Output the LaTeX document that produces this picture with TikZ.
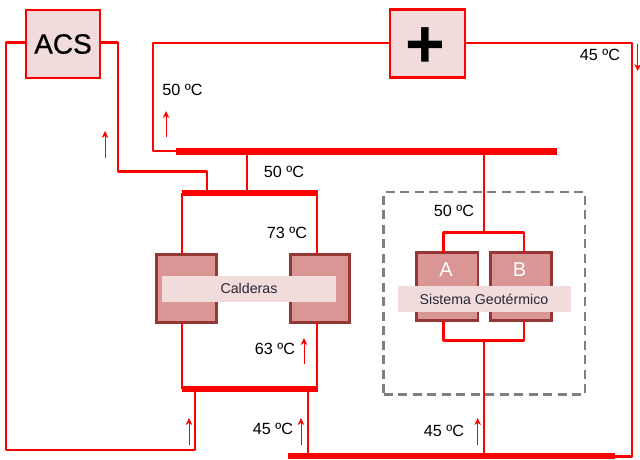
\documentclass[tikz,border=0pt]{standalone}
\usepackage{fontspec}
\setmainfont{Liberation Sans}
\newfontfamily\acsfont[FakeBold=0.6]{Liberation Sans}
\usetikzlibrary{arrows.meta, positioning}
\definecolor{pipeRed}{HTML}{FF0000}
\definecolor{paleRose}{HTML}{F2DCDB}
\definecolor{unitRose}{HTML}{D99694}
\definecolor{unitEdge}{HTML}{953735}
\definecolor{frameGrey}{HTML}{7F7F7F}
\definecolor{bandText}{HTML}{262635}
\tikzset{
  pipe/.style     = {pipeRed, line width=2.8pt, line join=round},
  busbar/.style   = {rectangle, fill=pipeRed, inner sep=0pt, outer sep=0pt},
  loadbox/.style  = {rectangle, draw=pipeRed, fill=paleRose, line width=2.8pt, inner sep=0pt, outer sep=0pt},
  unitbox/.style  = {rectangle, draw=unitEdge, fill=unitRose, line width=2.8pt, inner sep=0pt, outer sep=0pt},
  band/.style     = {rectangle, fill=paleRose, inner sep=0pt, outer sep=0pt, text=bandText,
                     font=\fontsize{14.2}{16}\selectfont},
  templbl/.style  = {inner sep=0pt, font=\fontsize{16.2}{18}\selectfont},
  flow/.style     = {-{Stealth[length=7pt, width=6.5pt]}, pipeRed, line width=1pt},
}
\begin{document}
\begin{tikzpicture}[x=1pt, y=-1pt]
  \useasboundingbox (0,0) rectangle (640,459);
  % geothermal enclosure
  \node[draw=frameGrey, line width=2.6pt, dash pattern=on 9pt off 5.5pt, minimum width=201.5pt,
        minimum height=202.5pt, inner sep=0pt] (geoframe) at (484.3,293.4) {};
  % collector bars
  \node[busbar, minimum width=381pt, minimum height=7pt] (bartop) at (366.5,151) {};
  \node[busbar, minimum width=136pt, minimum height=6.5pt] (barboilerup) at (249.5,193) {};
  \node[busbar, minimum width=136pt, minimum height=6.5pt] (barboilerdown) at (249.5,389) {};
  \node[busbar, minimum width=327pt, minimum height=6.5pt] (barbottom) at (451.5,456) {};
  % loads
  \node[loadbox, minimum width=74pt, minimum height=68pt] (acs) at (63,44)
       {\acsfont\fontsize{28}{30}\selectfont ACS};
  \node[loadbox, minimum width=75pt, minimum height=68pt] (extra) at (427.5,43.5) {};
  \node[inner sep=0pt, font=\bfseries\fontsize{68}{68}\selectfont] (plus) at (425.8,48) {+};
  % boilers and geothermal units
  \node[unitbox, minimum width=60pt, minimum height=68pt] (boilerL) at (186.5,288.5) {};
  \node[unitbox, minimum width=59pt, minimum height=68pt] (boilerR) at (320,288.5) {};
  \node[unitbox, minimum width=61.5pt, minimum height=68pt] (unitA) at (447.2,286.5) {};
  \node[unitbox, minimum width=61pt, minimum height=68pt] (unitB) at (521,286.5) {};
  \node[text=white, inner sep=0pt, font=\fontsize{20}{22}\selectfont] (letterA) at (446,270) {A};
  \node[text=white, inner sep=0pt, font=\fontsize{20}{22}\selectfont] (letterB) at (519.5,270) {B};
  % bend points
  \coordinate (acsleft) at (6,42.5);
  \coordinate (acsfoot) at (6,450);
  \coordinate (returnup) at (195,450);
  \coordinate (acsright) at (118,42.5);
  \coordinate (acsdown) at (118,171.5);
  \coordinate (boilertap) at (207,171.5);
  \coordinate (extraleft) at (153,43);
  \coordinate (extradown) at (153,151);
  \coordinate (extraright) at (632,43);
  \coordinate (extrafoot) at (632,456.5);
  \coordinate (manifoldAup) at (443.3,232.5);
  \coordinate (manifoldBup) at (524,232.5);
  \coordinate (manifoldAdown) at (443.3,340.7);
  \coordinate (manifoldBdown) at (524,340.7);
  % pipework
  \draw[pipe] (acs.west |- acsleft) -- (acsleft) -- (acsfoot) -- (returnup) -- (returnup |- barboilerdown.south);
  \draw[pipe] (acs.east |- acsright) -- (acsright) -- (acsdown) -- (boilertap) -- (boilertap |- barboilerup.north);
  \draw[pipe] (extra.west |- extraleft) -- (extraleft) -- (extradown) -- (bartop.west |- extradown);
  \draw[pipe] (extra.east |- extraright) -- (extraright) -- (extrafoot) -- (barbottom.east |- extrafoot);
  \draw[pipe] (247,151) -- (247,193);
  \draw[pipe] (182,193) -- (182,254);
  \draw[pipe] (317,193) -- (317,254);
  \draw[pipe] (182,322) -- (182,389);
  \draw[pipe] (317,322) -- (317,389);
  \draw[pipe] (308,389) -- (308,456);
  \draw[pipe] (484,151) -- (484,232.5);
  \draw[pipe] (484,340.7) -- (484,456);
  \draw[pipe] (unitA.north -| manifoldAup) -- (manifoldAup) -- (manifoldBup) -- (unitB.north -| manifoldBup);
  \draw[pipe] (unitA.south -| manifoldAdown) -- (manifoldAdown) -- (manifoldBdown) -- (unitB.south -| manifoldBdown);
  % bands over the units
  \node[band, minimum width=174pt, minimum height=26pt] (bandboilers) at (249,288.7) {Calderas};
  \node[band, minimum width=173pt, minimum height=26pt] (bandgeo) at (484,299.3) {Sistema Geotérmico};
  % temperatures
  \node[templbl] (tempA) at (182.5,90) {50 ºC};
  \node[templbl] (tempB) at (284,172) {50 ºC};
  \node[templbl] (tempC) at (287,233) {73 ºC};
  \node[templbl] (tempD) at (275,349) {63 ºC};
  \node[templbl] (tempE) at (273,429) {45 ºC};
  \node[templbl] (tempF) at (600,55) {45 ºC};
  \node[templbl] (tempG) at (454,211) {50 ºC};
  \node[templbl] (tempH) at (444,431) {45 ºC};
  % flow directions
  \coordinate (flowA) at (105,158);
  \coordinate (flowB) at (166,137);
  \coordinate (flowC) at (304,364);
  \coordinate (flowD) at (189,445);
  \coordinate (flowE) at (301,445);
  \coordinate (flowF) at (477.7,445);
  \coordinate (flowG) at (637.7,44);
  \draw[flow] (flowA) -- ++(0,-27);
  \draw[flow] (flowB) -- ++(0,-26);
  \draw[flow] (flowC) -- ++(0,-26);
  \draw[flow] (flowD) -- ++(0,-27);
  \draw[flow] (flowE) -- ++(0,-27);
  \draw[flow] (flowF) -- ++(0,-27);
  \draw[flow] (flowG) -- ++(0,27);
\end{tikzpicture}
\end{document}
